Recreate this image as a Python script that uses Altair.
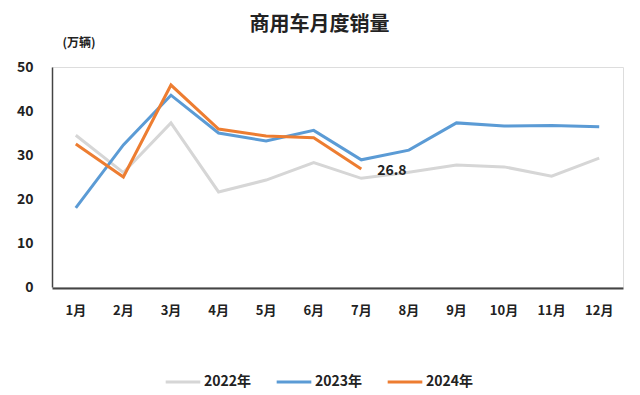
import altair as alt
import pandas as pd

months = ["1月", "2月", "3月", "4月", "5月", "6月", "7月", "8月", "9月", "10月", "11月", "12月"]
y2022 = [34.5, 26.0, 37.3, 21.6, 24.3, 28.3, 24.7, 26.1, 27.7, 27.3, 25.2, 29.3]
y2023 = [18.0, 32.3, 43.6, 35.0, 33.2, 35.6, 28.9, 31.1, 37.3, 36.6, 36.7, 36.4]
y2024 = [32.5, 25.0, 45.9, 35.9, 34.3, 33.9, 26.8]
series = ["2022年", "2023年", "2024年"]
colors = ["#d6d6d6", "#5b9bd5", "#ed7d31"]

rows = []
for name, vals in zip(series, [y2022, y2023, y2024]):
    for m, v in zip(months, vals):
        rows.append({"month": m, "value": v, "series": name})
df = pd.DataFrame(rows)

label_df = pd.DataFrame([{"month": months[6], "value": y2024[6], "txt": f"{y2024[6]}"}])

FONT = "Noto Sans CJK SC"

x = alt.X("month:N", sort=months, scale=alt.Scale(paddingInner=0, paddingOuter=0, type="band"),
          axis=alt.Axis(title=None, ticks=False, domain=True, domainColor="#444", domainWidth=2,
                        offset=1, labelAngle=0, labelPadding=16, labelFontSize=13,
                        labelFontWeight="bold", labelColor="#222", labelFont=FONT, grid=False))
y = alt.Y("value:Q", scale=alt.Scale(domain=[0, 50], nice=False),
          axis=alt.Axis(values=[0, 10, 20, 30, 40, 50], ticks=False, grid=False,
                        domainColor="#444", domainWidth=1.5, labelPadding=19,
                        labelFontSize=14, labelFontWeight="bold", labelColor="#222", labelFont=FONT,
                        title="(万辆)", titleAngle=0, titleAlign="left", titleBaseline="middle",
                        titleX=10, titleY=-25, titleFontSize=12, titleFontWeight="bold",
                        titleColor="#222", titleFont=FONT))

lines = alt.Chart(df).mark_line(strokeWidth=3, strokeJoin="miter").encode(
    x=x, y=y,
    color=alt.Color("series:N", scale=alt.Scale(domain=series, range=colors),
                    legend=alt.Legend(title=None, orient="none", direction="horizontal",
                                      legendX=112, legendY=296, symbolType="stroke",
                                      symbolStrokeWidth=3, symbolSize=1200,
                                      labelFontSize=14, labelFontWeight="bold", labelColor="#222",
                                      labelFont=FONT, columnPadding=18, labelOffset=2)),
    order=alt.Order("series:N"),
)

txt = alt.Chart(label_df).mark_text(align="left", baseline="middle", dx=16, dy=2,
                                    fontSize=14, fontWeight="bold", font=FONT, color="#222").encode(
    x=x, y=y, text="txt:N")

chart = alt.layer(lines, txt).properties(
    width=571, height=220,
    autosize=alt.AutoSizeParams(type="none"),
    padding={"left": 44, "top": 59, "right": 9, "bottom": 108},
    title=alt.TitleParams("商用车月度销量", fontSize=20, fontWeight="bold", font=FONT,
                          color="#222", anchor="middle", offset=1, dx=-18),
).configure_view(stroke=None).configure(background="white")

chart.save("out.html", embed_options={"renderer": "svg", "actions": False})
